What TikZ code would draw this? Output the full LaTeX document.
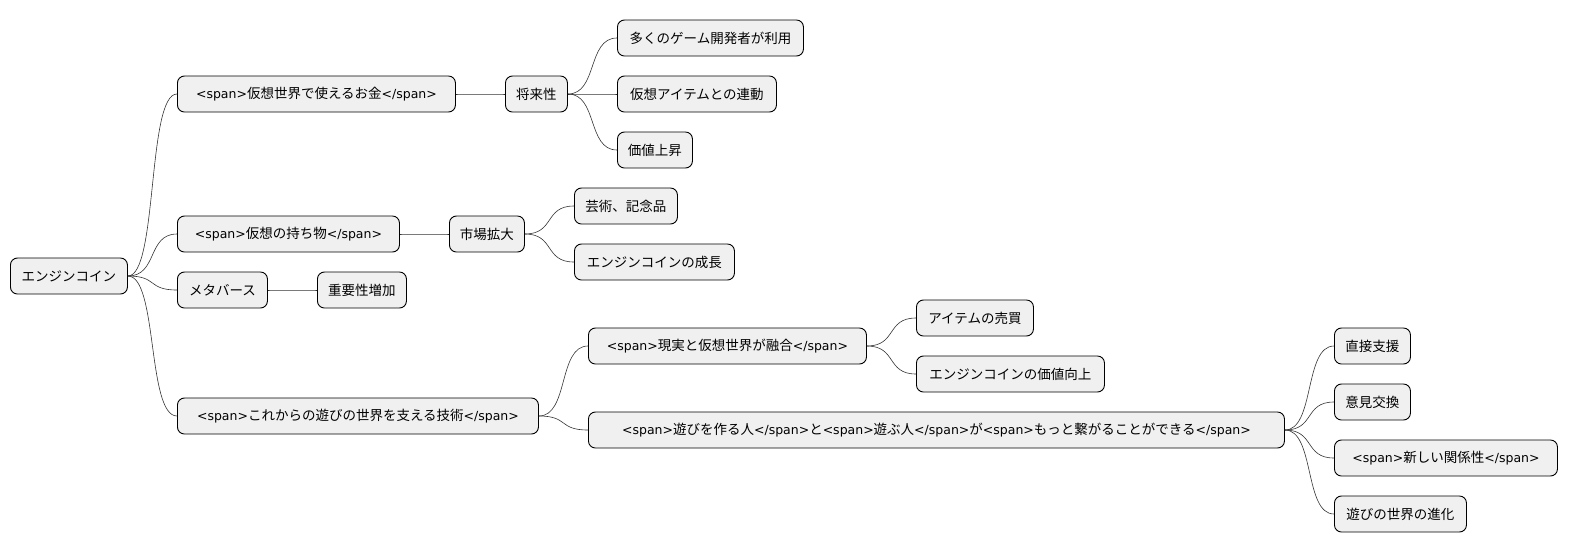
\documentclass[tikz,border=0pt]{standalone}
\usepackage{fontspec}
\setmainfont{Noto Sans CJK JP}
\newfontfamily\latfont{DejaVu Sans}
\newcommand\op{{\latfont\fontsize{12.5}{16}\selectfont<span>}}
\newcommand\cl{{\latfont\fontsize{12.5}{16}\selectfont</span>}}
\tikzset{
 idea/.style={draw=black, fill=black!6, rounded corners=7pt, line width=0.9pt,
   anchor=west, minimum height=36pt, inner xsep=10pt, font=\fontsize{13.5}{16}\selectfont},
 link/.style={line width=0.6pt, draw=black!80},
}
\begin{document}
\begin{tikzpicture}[x=1pt,y=-1pt]
 \useasboundingbox (0,0) rectangle (1573,555);
 \node[idea, minimum width=117pt] (root) at (10,276) {エンジンコイン}; %ルート
 % 第1階層
 \node[idea, minimum width=278pt] (money) at (177,94) {\op 仮想世界で使えるお金\cl};
 \node[idea, minimum width=222pt] (items) at (177,234) {\op 仮想の持ち物\cl};
 \node[idea, minimum width=90pt] (meta) at (177,290) {メタバース};
 \node[idea, minimum width=361pt] (tech) at (177,416) {\op これからの遊びの世界を支える技術\cl};
 % 第2階層
 \node[idea, minimum width=62pt] (future) at (505,94) {将来性};
 \node[idea, minimum width=75pt] (market) at (449,234) {市場拡大};
 \node[idea, minimum width=89pt] (weight) at (317,290) {重要性増加};
 \node[idea, minimum width=278pt] (fusion) at (588,346) {\op 現実と仮想世界が融合\cl};
 \node[idea, minimum width=696pt] (connect) at (588,430) {\op 遊びを作る人\cl と\op 遊ぶ人\cl が\op もっと繋がることができる\cl};
 % 第3階層
 \node[idea, minimum width=186pt] (dev) at (617,38) {多くのゲーム開発者が利用};
 \node[idea, minimum width=159pt] (link) at (617,94) {仮想アイテムとの連動};
 \node[idea, minimum width=75pt] (rise) at (617,150) {価値上昇};
 \node[idea, minimum width=103pt] (art) at (574,206) {芸術、記念品};
 \node[idea, minimum width=160pt] (grow) at (574,262) {エンジンコインの成長};
 \node[idea, minimum width=117pt] (trade) at (916,318) {アイテムの売買};
 \node[idea, minimum width=188pt] (value) at (916,374) {エンジンコインの価値向上};
 \node[idea, minimum width=76pt] (support) at (1334,346) {直接支援};
 \node[idea, minimum width=76pt] (talk) at (1334,402) {意見交換};
 \node[idea, minimum width=223pt] (rel) at (1334,458) {\op 新しい関係性\cl};
 \node[idea, minimum width=132pt] (evo) at (1334,514) {遊びの世界の進化};
 % 接続線
 \foreach \a/\b in {root/money,root/items,root/meta,root/tech,money/future,items/market,
   meta/weight,tech/fusion,tech/connect,future/dev,future/link,future/rise,market/art,
   market/grow,fusion/trade,fusion/value,connect/support,connect/talk,connect/rel,connect/evo}
   \draw[link] (\a.east) .. controls +(30,0) and +(-30,0) .. (\b.west);
\end{tikzpicture}
\end{document}
